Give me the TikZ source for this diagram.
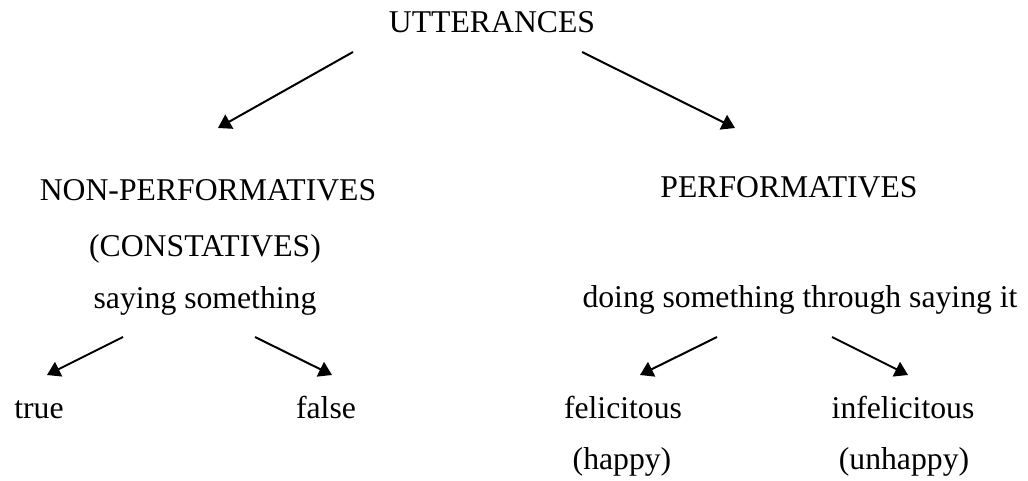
\documentclass[tikz,border=0pt]{standalone}
\usepackage{fontspec}
\setmainfont{Liberation Serif}
\usetikzlibrary{arrows.meta}

\begin{document}
\begin{tikzpicture}[x=0.5pt,y=-0.5pt,
        word/.style={anchor=base, inner sep=0pt, font=\fontsize{15.85}{19}\selectfont},
        branch/.style={line width=1pt, -{Triangle[length=6.5pt,width=8pt]}}]

                \useasboundingbox (0,0) rectangle (1028,481);

                % top level
                \node[word] (utt) at (492,33) {UTTERANCES};

                % second level
                \node[word] (nonperf) at (208,200) {NON-PERFORMATIVES};
                \node[word] (const) at (205,256) {(CONSTATIVES)};
                \node[word] (saying) at (205,308) {saying something};
                \node[word] (perf) at (789,198) {PERFORMATIVES};
                \node[word] (doing) at (800,307) {doing something through saying it};

                % leaves
                \node[word] (true) at (39,418) {true};
                \node[word] (false) at (326,418) {false};
                \node[word] (fel) at (623,418) {felicitous};
                \node[word] (infel) at (903,418) {infelicitous};
                \node[word] (happy) at (622,469) {(happy)};
                \node[word] (unhappy) at (904,469) {(unhappy)};

                % arrow ends
                \coordinate (utt l) at (353,52);
                \coordinate (utt r) at (582,52);
                \coordinate (nonperf in) at (218,128);
                \coordinate (perf in) at (735,128);
                \coordinate (saying l) at (123,337);
                \coordinate (saying r) at (255,337);
                \coordinate (doing l) at (717,337);
                \coordinate (doing r) at (832,337);
                \coordinate (true in) at (47,375);
                \coordinate (false in) at (332,375);
                \coordinate (fel in) at (640,375);
                \coordinate (infel in) at (908,375);

                % arrows
                \draw[branch] (utt l) -- (nonperf in);
                \draw[branch] (utt r) -- (perf in);
                \draw[branch] (saying l) -- (true in);
                \draw[branch] (saying r) -- (false in);
                \draw[branch] (doing l) -- (fel in);
                \draw[branch] (doing r) -- (infel in);

            \end{tikzpicture}
\end{document}
